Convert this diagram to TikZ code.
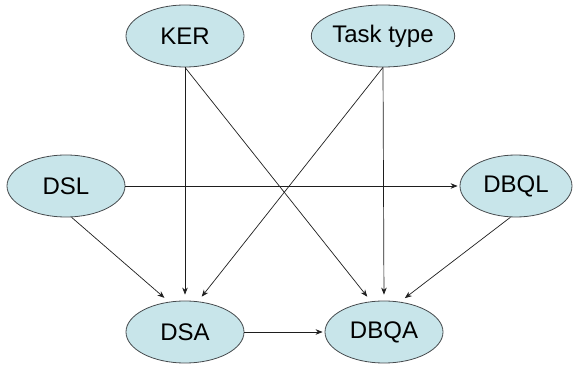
\documentclass[tikz,border=0pt]{standalone}
\usepackage{fontspec}
\setmainfont{Liberation Sans}
\usetikzlibrary{shapes.geometric,arrows.meta}
\definecolor{nodefill}{RGB}{200,229,234}
\definecolor{nodeline}{RGB}{70,75,78}
\definecolor{edgecol}{RGB}{30,30,30}
\begin{document}
\begin{tikzpicture}[x=1pt,y=-1pt,
  var/.style={ellipse,draw=nodeline,fill=nodefill,line width=0.8pt,minimum width=118pt,minimum height=62pt,inner sep=0pt,font=\fontsize{24}{27}\selectfont},
  link/.style={draw=edgecol,line width=0.7pt,-{Stealth[length=7pt,width=5.5pt]}}]
\useasboundingbox (0,0) rectangle (574,366);
\node[var] (KER) at (185,36) {KER};
\node[var] (Task) at (383,36) {Task type};
\node[var] (DSL) at (66,186) {DSL};
\node[var,minimum width=112pt] (DBQL) at (516,186) {DBQL};
\node[var] (DSA) at (185,332) {DSA};
\node[var] (DBQA) at (384,332) {DBQA};
\draw[link,shorten >=6pt] (KER.south) -- (DSA.north);
\draw[link,shorten >=6pt] (KER.south) -- (DBQA.113);
\draw[link,shorten >=6pt] (Task.south) -- (DSA.67);
\draw[link,shorten >=6pt] (Task.south) -- (DBQA.north);
\draw[link,shorten >=6pt] (DSL.-80) -- (DSA.118);
\draw[link,shorten >=6pt] (DBQL.-100) -- (DBQA.62);
\draw[link,shorten >=2pt] (DSL.east) -- (DBQL.west);
\draw[link,shorten >=2pt] (DSA.east) -- (DBQA.west);
\end{tikzpicture}
\end{document}
